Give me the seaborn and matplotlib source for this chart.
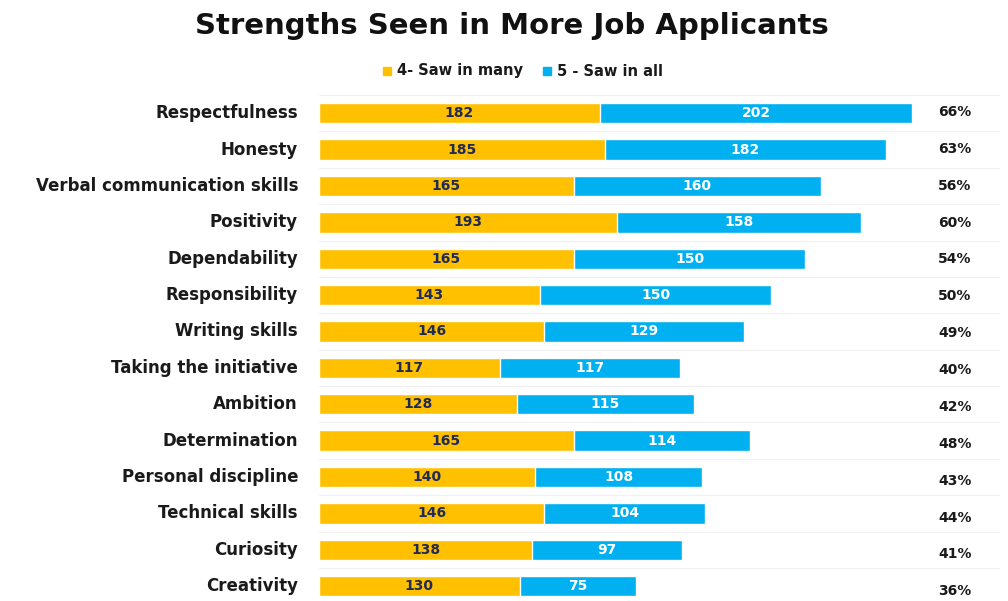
import matplotlib
matplotlib.use("Agg")
import matplotlib.pyplot as plt
import matplotlib.transforms as mtransforms
import seaborn as sns
import pandas as pd

strengths = [
    "Respectfulness", "Honesty", "Verbal communication skills", "Positivity",
    "Dependability", "Responsibility", "Writing skills", "Taking the initiative",
    "Ambition", "Determination", "Personal discipline", "Technical skills",
    "Curiosity", "Creativity",
]
saw_in_many = [182, 185, 165, 193, 165, 143, 146, 117, 128, 165, 140, 146, 138, 130]
saw_in_all = [202, 182, 160, 158, 150, 150, 129, 117, 115, 114, 108, 104, 97, 75]
share_pct = [66, 63, 56, 60, 54, 50, 49, 40, 42, 48, 43, 44, 41, 36]

ORANGE = "#FFC000"
BLUE = "#00B0F0"
NAVY = "#1F2A55"
INK = "#1A1A1A"

df = pd.DataFrame({
    "strength": strengths,
    "many": saw_in_many,
    "all": saw_in_all,
})
df["total"] = df["many"] + df["all"]

sns.set_theme(style="white")
plt.rcParams["font.family"] = ["DejaVu Sans"]

fig = plt.figure(figsize=(10.08, 6.01), dpi=100)
ax = fig.add_axes([319 / 1008, 0.0, 681 / 1008, (601 - 95) / 601])

# Stacked bars: full total in blue, the "4" portion drawn over it in orange
sns.barplot(data=df, y="strength", x="total", orient="h", color=BLUE,
            width=0.56, saturation=1, ax=ax)
sns.barplot(data=df, y="strength", x="many", orient="h", color=ORANGE,
            width=0.56, saturation=1, ax=ax)

ax.set_xlim(0, 681 / 1.544)
ax.set_ylim(13.41, -0.5)
ax.set_xlabel("")
ax.set_ylabel("")
ax.set_xticks([])
ax.set_yticks([])
for s in ax.spines.values():
    s.set_visible(False)

# faint row separators
for i in range(len(strengths)):
    ax.axhline(i - 0.5, color="#F0F0F0", lw=0.8, zorder=0)

for i, (m, a) in enumerate(zip(saw_in_many, saw_in_all)):
    ax.text(m / 2, i, str(m), ha="center", va="center", fontsize=10,
            fontweight="bold", color=NAVY)
    ax.text(m + a / 2, i, str(a), ha="center", va="center", fontsize=10,
            fontweight="bold", color="white")

# percentage column on the right
trans = mtransforms.blended_transform_factory(ax.transAxes, ax.transData)
for i, p in enumerate(share_pct):
    ax.text((955 - 319) / 681, i * 1.0137 - 0.036, f"{p}%", transform=trans,
            ha="center", va="center", fontsize=10, fontweight="bold", color=INK)

# category labels
for i, name in enumerate(strengths):
    ax.text(-21 / 1.544, i, name, ha="right", va="center", fontsize=12,
            fontweight="bold", color=INK)

fig.text(512 / 1008, 1 - 26 / 601, "Strengths Seen in More Job Applicants",
         ha="center", va="center", fontsize=21, fontweight="bold",
         color="#111111")

# legend
ly = 1 - 71 / 601
fig.patches.append(plt.Rectangle((383 / 1008, ly - 4 / 601), 8 / 1008, 8 / 601,
                                 transform=fig.transFigure, color=ORANGE))
fig.text(397 / 1008, ly, "4- Saw in many", ha="left", va="center",
         fontsize=10.5, fontweight="bold", color=INK)
fig.patches.append(plt.Rectangle((543 / 1008, ly - 4 / 601), 8 / 1008, 8 / 601,
                                 transform=fig.transFigure, color=BLUE))
fig.text(557 / 1008, ly, "5 - Saw in all", ha="left", va="center",
         fontsize=10.5, fontweight="bold", color=INK)

fig.savefig("out.png", dpi=100)
